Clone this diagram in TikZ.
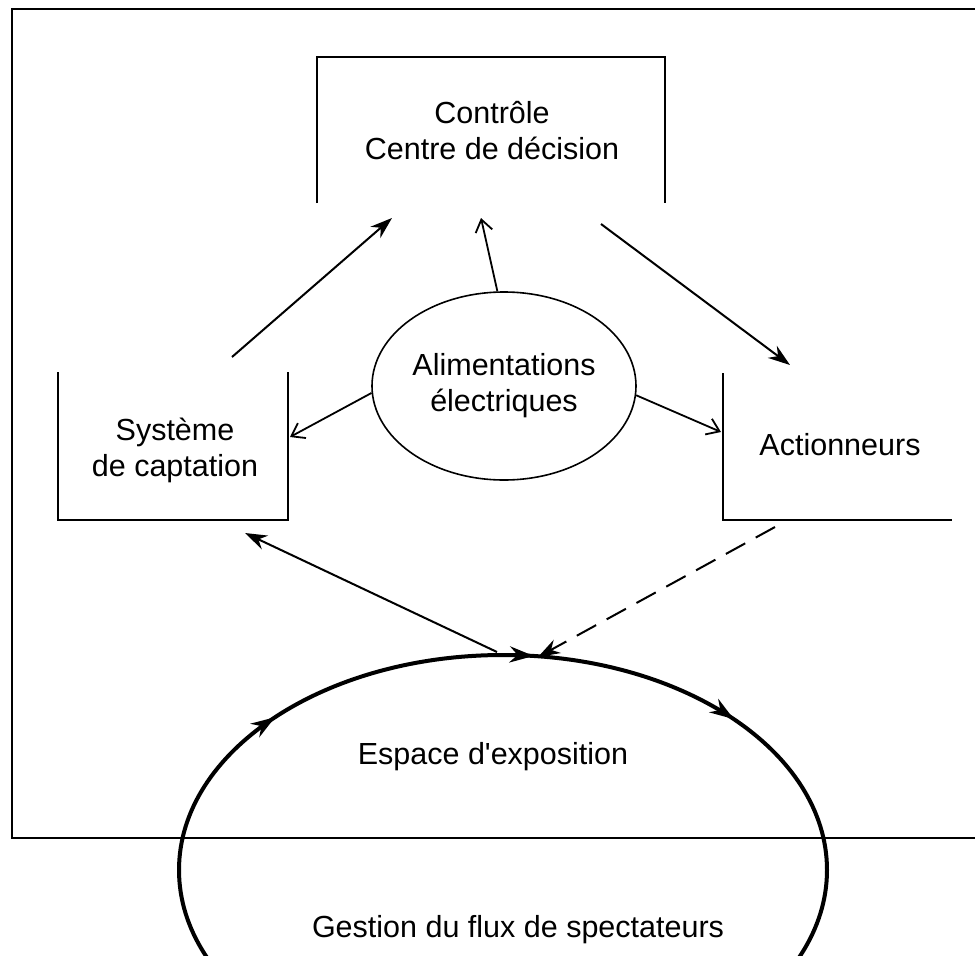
\documentclass[tikz,border=0pt]{standalone}
\usepackage{fontspec}
\setmainfont{Liberation Sans}
\usetikzlibrary{shapes.geometric,arrows.meta,decorations.markings}
\begin{document}
\begin{tikzpicture}[x=1pt,y=-1pt,
  font=\fontsize{30.5}{36}\selectfont,
  frameline/.style={line width=2.6},
  boxline/.style={line width=2.6},
  lbl/.style={align=center, inner sep=0},
  link/.style={line width=2, -{Stealth[length=22,width=15]}},
  barb/.style={line width=1.8, -{Straight Barb[length=12,width=17]}},
  dlink/.style={line width=2, dash pattern=on 22pt off 12pt, -{Stealth[length=22,width=15]}},
  bigell/.style={line width=4,
    decoration={markings,
      mark=at position 0.108 with {\arrowreversed{Stealth[length=24,width=16]}},
      mark=at position 0.232 with {\arrowreversed{Stealth[length=24,width=16]}},
      mark=at position 0.390 with {\arrowreversed{Stealth[length=24,width=16]}}},
    postaction=decorate}]
\useasboundingbox (0,0) rectangle (975,956);
\fill[white] (0,0) rectangle (975,956);

% outer frame
\draw[frameline] (975,9) -- (12,9) -- (12,838) -- (975,838);

% boxes
\draw[boxline] (317,203) -- (317,57) -- (665,57) -- (665,203);
\draw[boxline] (58,372) -- (58,520) -- (288,520) -- (288,372);
\draw[boxline] (723,373) -- (723,520) -- (952,520);

% text nodes
\node[lbl] (ctrl) at (492,131) {Contrôle\\Centre de décision};
\node[lbl] (capt) at (175,450) {Système\\de captation};
\node[lbl] (act) at (840,445) {Actionneurs};
\node[ellipse, draw, line width=1.6, minimum width=264pt, minimum height=188pt, inner sep=0, align=center] (alim) at (504,386) {Alimentations\\électriques};
\node[lbl] (expo) at (493,757) {Espace d\textquotesingle exposition};
\node[lbl] (flux) at (518,930) {Gestion du flux de spectateurs};

% big ellipse
\draw[bigell] (503,870) ellipse [x radius=324pt, y radius=215pt];

% connector end points
\coordinate (captTop) at (232,357);
\coordinate (ctrlIn) at (392,218);
\coordinate (ctrlTop) at (481,218);
\coordinate (ctrlOut) at (601,224);
\coordinate (actIn) at (790,365);
\coordinate (captRight) at (290,437);
\coordinate (actLeft) at (721,432);
\coordinate (expoTop) at (497,652);
\coordinate (captBottom) at (245,533);
\coordinate (actBottom) at (775,527);
\coordinate (expoIn) at (538,657);

% connectors
\draw[link] (captTop) -- (ctrlIn);
\draw[barb] (alim.94) -- (ctrlTop);
\draw[link] (ctrlOut) -- (actIn);
\draw[barb] (alim.183) -- (captRight);
\draw[barb] (alim.-4) -- (actLeft);
\draw[link] (expoTop) -- (captBottom);
\draw[dlink] (actBottom) -- (expoIn);
\end{tikzpicture}
\end{document}
